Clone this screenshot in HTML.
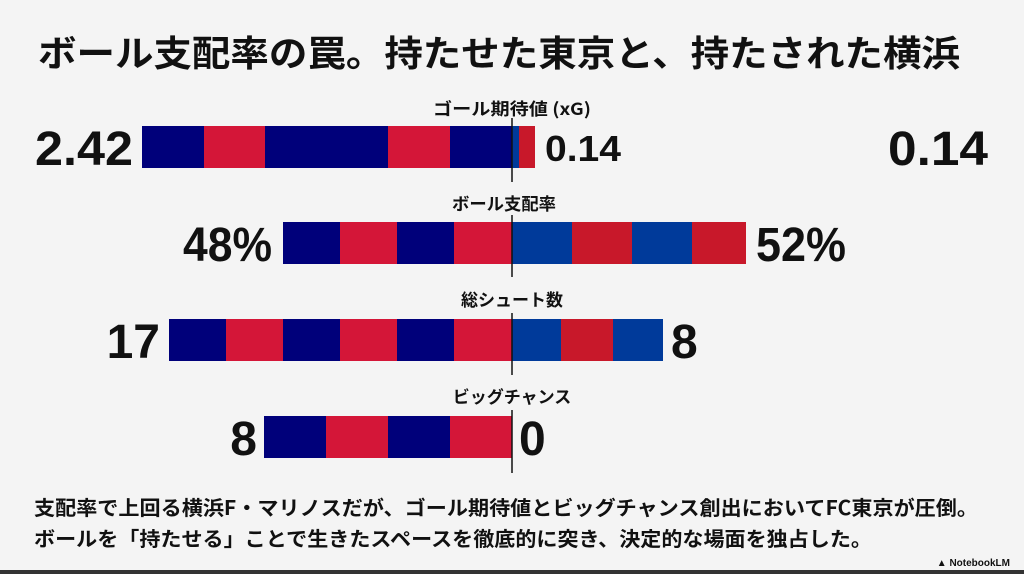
<!DOCTYPE html>
<html><head><meta charset="utf-8"><style>
html,body{margin:0;padding:0;background:#f4f4f4;}
svg{display:block}
text{font-family:"Liberation Sans","Noto Sans CJK JP",sans-serif;font-weight:bold;fill:#111}
.j{font-family:"Noto Sans CJK JP","Liberation Sans",sans-serif}
</style></head><body>
<svg width="1024" height="574" viewBox="0 0 1024 574" xmlns="http://www.w3.org/2000/svg">
<rect width="1024" height="574" fill="#f4f4f4"/>
<rect y="570" width="1024" height="4" fill="#333"/>
<text class="j" x="38" y="66" font-size="36" textLength="922" lengthAdjust="spacingAndGlyphs">ボール支配率の罠。持たせた東京と、持たされた横浜</text>

<!-- row1 -->
<text class="j" x="512" y="115" font-size="17" text-anchor="middle" textLength="158" lengthAdjust="spacingAndGlyphs">ゴール期待値 (xG)</text>
<rect x="142" y="126" width="62" height="42" fill="#00007a"/>
<rect x="204" y="126" width="61" height="42" fill="#d41638"/>
<rect x="265" y="126" width="123" height="42" fill="#00007a"/>
<rect x="388" y="126" width="62" height="42" fill="#d41638"/>
<rect x="450" y="126" width="62" height="42" fill="#00007a"/>
<rect x="512" y="126" width="7" height="42" fill="#003a9a"/>
<rect x="519" y="126" width="16" height="42" fill="#c8182a"/>
<line x1="512" y1="118" x2="512" y2="182" stroke="#111" stroke-width="1.5"/>
<text x="133" y="165" font-size="48" text-anchor="end" textLength="98" lengthAdjust="spacingAndGlyphs">2.42</text>
<text x="545" y="161" font-size="36" textLength="76" lengthAdjust="spacingAndGlyphs">0.14</text>
<text x="988" y="165" font-size="48" text-anchor="end" textLength="100" lengthAdjust="spacingAndGlyphs">0.14</text>

<!-- row2 -->
<text class="j" x="504" y="210" font-size="17" text-anchor="middle" textLength="104" lengthAdjust="spacingAndGlyphs">ボール支配率</text>
<rect x="283" y="222" width="57" height="42" fill="#00007a"/>
<rect x="340" y="222" width="57" height="42" fill="#d41638"/>
<rect x="397" y="222" width="57" height="42" fill="#00007a"/>
<rect x="454" y="222" width="58" height="42" fill="#d41638"/>
<rect x="512" y="222" width="60" height="42" fill="#003a9a"/>
<rect x="572" y="222" width="60" height="42" fill="#c8182a"/>
<rect x="632" y="222" width="60" height="42" fill="#003a9a"/>
<rect x="692" y="222" width="54" height="42" fill="#c8182a"/>
<line x1="512" y1="215" x2="512" y2="277" stroke="#111" stroke-width="1.5"/>
<text x="272" y="261" font-size="48" text-anchor="end" textLength="89" lengthAdjust="spacingAndGlyphs">48%</text>
<text x="756" y="261" font-size="48" textLength="90" lengthAdjust="spacingAndGlyphs">52%</text>

<!-- row3 -->
<text class="j" x="512" y="306" font-size="17" text-anchor="middle">総シュート数</text>
<rect x="169" y="319" width="57" height="42" fill="#00007a"/>
<rect x="226" y="319" width="57" height="42" fill="#d41638"/>
<rect x="283" y="319" width="57" height="42" fill="#00007a"/>
<rect x="340" y="319" width="57" height="42" fill="#d41638"/>
<rect x="397" y="319" width="57" height="42" fill="#00007a"/>
<rect x="454" y="319" width="58" height="42" fill="#d41638"/>
<rect x="512" y="319" width="49" height="42" fill="#003a9a"/>
<rect x="561" y="319" width="52" height="42" fill="#c8182a"/>
<rect x="613" y="319" width="50" height="42" fill="#003a9a"/>
<line x1="512" y1="313" x2="512" y2="375" stroke="#111" stroke-width="1.5"/>
<text x="160" y="358" font-size="48" text-anchor="end">17</text>
<text x="671" y="358" font-size="48">8</text>

<!-- row4 -->
<text class="j" x="512" y="403" font-size="17" text-anchor="middle">ビッグチャンス</text>
<rect x="264" y="416" width="62" height="42" fill="#00007a"/>
<rect x="326" y="416" width="62" height="42" fill="#d41638"/>
<rect x="388" y="416" width="62" height="42" fill="#00007a"/>
<rect x="450" y="416" width="62" height="42" fill="#d41638"/>
<line x1="512" y1="410" x2="512" y2="473" stroke="#111" stroke-width="1.5"/>
<text x="257" y="455" font-size="48" text-anchor="end">8</text>
<text x="519" y="455" font-size="48">0</text>

<text class="j" x="34" y="515" font-size="20" textLength="944" lengthAdjust="spacingAndGlyphs">支配率で上回る横浜F・マリノスだが、ゴール期待値とビッグチャンス創出においてFC東京が圧倒。</text>
<text class="j" x="34" y="546" font-size="20" textLength="838" lengthAdjust="spacingAndGlyphs">ボールを「持たせる」ことで生きたスペースを徹底的に突き、決定的な場面を独占した。</text>
<text x="1010" y="566" font-size="10" text-anchor="end" font-weight="normal" fill="#333">▲ NotebookLM</text>
</svg>
</body></html>
